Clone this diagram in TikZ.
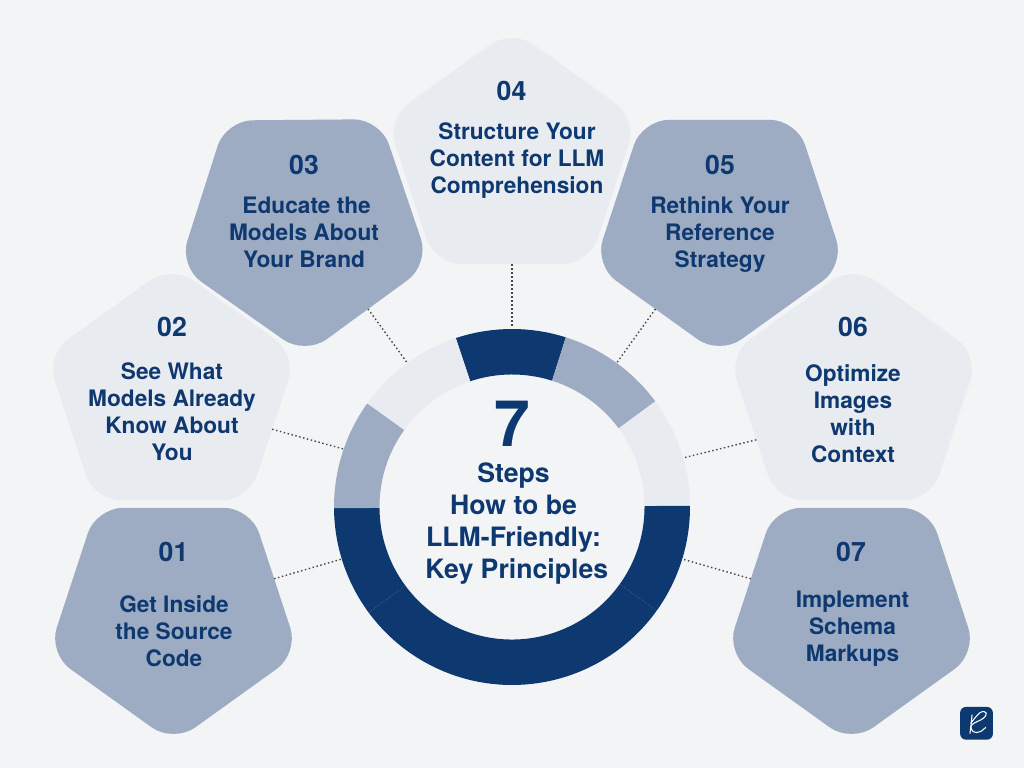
\documentclass[tikz,border=0pt]{standalone}
\usepackage{fontspec}
\setmainfont{TeX Gyre Heros}
\usetikzlibrary{shapes.geometric,calc}
\definecolor{bgc}{HTML}{F2F4F6}
\definecolor{pale}{HTML}{E8EBF0}
\definecolor{midb}{HTML}{9DACC2}
\definecolor{darkb}{HTML}{0E3870}
\tikzset{
  x=0.75pt,y=-0.75pt,
  penta/.style={regular polygon,regular polygon sides=5,minimum size=195pt,inner sep=0pt,outer sep=0pt,rounded corners=20pt,draw=none,xscale=1.012,transform shape},
  pup/.style={penta},
  pdown/.style={penta,shape border rotate=180},
  numtxt/.style={font=\fontsize{20}{22}\bfseries\selectfont,text=darkb,inner sep=0pt,anchor=base},
  steptxt/.style={font=\fontsize{17}{20.25}\bfseries\selectfont,text=darkb,inner sep=0pt,align=center},
  link/.style={draw=black!72,line width=1.05pt,dash pattern=on 1.1pt off 1.9pt},
  ringnode/.style={circle,minimum size=267pt,inner sep=0pt,outer sep=0pt,draw=none}
}
\newcommand{\ringseg}[3]{\fill[#3] (512,507) ++(#1:133.5pt) arc[start angle=#1,end angle=#2,radius=133.5pt] -- ($(512,507)+(#2:99.4pt)$) arc[start angle=#2,end angle=#1,radius=99.4pt] -- cycle;}
\begin{document}
\begin{tikzpicture}
\useasboundingbox (0,0) rectangle (1024,768);
\fill[bgc] (0,0) rectangle (1024,768);
% pentagons
\node[pdown,fill=midb] (p1) at (173.5,613) {};
\node[pup,fill=pale]   (p2) at (171.5,395) {};
\node[pdown,fill=midb,shape border rotate=180.5] (p3) at (304,225) {};
\node[pup,fill=pale]   (p4) at (512,159) {};
\node[pdown,fill=midb] (p5) at (719.5,225) {};
\node[pup,fill=pale]   (p6) at (853.5,395) {};
\node[pdown,fill=midb] (p7) at (851.5,613) {};
% ring
\ringseg{72.4}{108.4}{darkb}
\ringseg{36.4}{72.4}{midb}
\ringseg{0.4}{36.4}{pale}
\ringseg{-35.6}{0.4}{darkb}
\ringseg{-143.6}{-35.6}{darkb}
\ringseg{-179.6}{-143.6}{darkb}
\ringseg{144.4}{180.4}{midb}
\ringseg{108.4}{144.4}{pale}
\node[ringnode] (ring) at (512,507) {};
% connectors
\draw[link] (p1.19.1) -- (ring.197.4);
\draw[link] (p2.-19.8) -- (ring.161);
\draw[link] (p3.-53.8) -- (ring.126.4);
\draw[link,shorten >=2pt] (p4.-90) -- (ring.90);
\draw[link] (p5.233.8) -- (ring.54.7);
\draw[link] (p6.205) -- (ring.16.8);
\draw[link] (p7.161.8) -- (ring.-17.2);
% numbers
\node[numtxt] (n1) at (173.5,561.7) {01};
\node[numtxt] (n2) at (172,336.5) {02};
\node[numtxt] (n3) at (304,174.5) {03};
\node[numtxt] (n4) at (511.5,100.5) {04};
\node[numtxt] (n5) at (720,174.5) {05};
\node[numtxt] (n6) at (853,336.5) {06};
\node[numtxt] (n7) at (851,561.7) {07};
% texts
\node[steptxt] (t1) at (174,634) {\strut Get Inside\\\strut the Source\\\strut Code};
\node[steptxt] (t2) at (172,415) {\strut See What\\\strut Models Already\\\strut Know About\\\strut You};
\node[steptxt] (t3) at (304,235) {\strut\hspace*{4pt}Educate the\\\strut Models About\\\strut Your Brand};
\node[steptxt] (t4) at (517,161) {\strut Structure Your\\\strut Content for LLM\\\strut Comprehension};
\node[steptxt] (t5) at (720,235) {\strut Rethink Your\\\strut Reference\\\strut Strategy};
\node[steptxt] (t6) at (853,417) {\strut Optimize\\\strut Images\\\strut with\\\strut Context};
\node[steptxt] (t7) at (852.5,629.5) {\strut Implement\\\strut Schema\\\strut Markups};
% centre
\node[inner sep=0pt,anchor=base,text=darkb,font=\fontsize{48}{48}\bfseries\selectfont] (seven) at (512,446) {7};
\node[inner sep=0pt,text=darkb,align=center,font=\fontsize{20}{24}\bfseries\selectfont] (ctitle) at (513.5,524) {\strut Steps\\\strut How to be\\\strut LLM-Friendly:\\\strut\hspace*{5pt}Key Principles};
% logo
\node[fill=darkb,rounded corners=4.5pt,minimum size=24.6pt,inner sep=0pt] (logo) at (976.5,723.3) {};
\draw[white,line width=0.8pt,line cap=round] (972,715) .. controls (971.5,721) .. (970,733.3);
\draw[white,line width=0.8pt,line cap=round,line join=round] plot[smooth,tension=0.7] coordinates {(970.7,723.3) (980,712.7) (986,712.7) (983.3,718.3) (971.7,725) (973.3,731.7) (980,731.7) (985.7,727.3)};
\end{tikzpicture}
\end{document}
